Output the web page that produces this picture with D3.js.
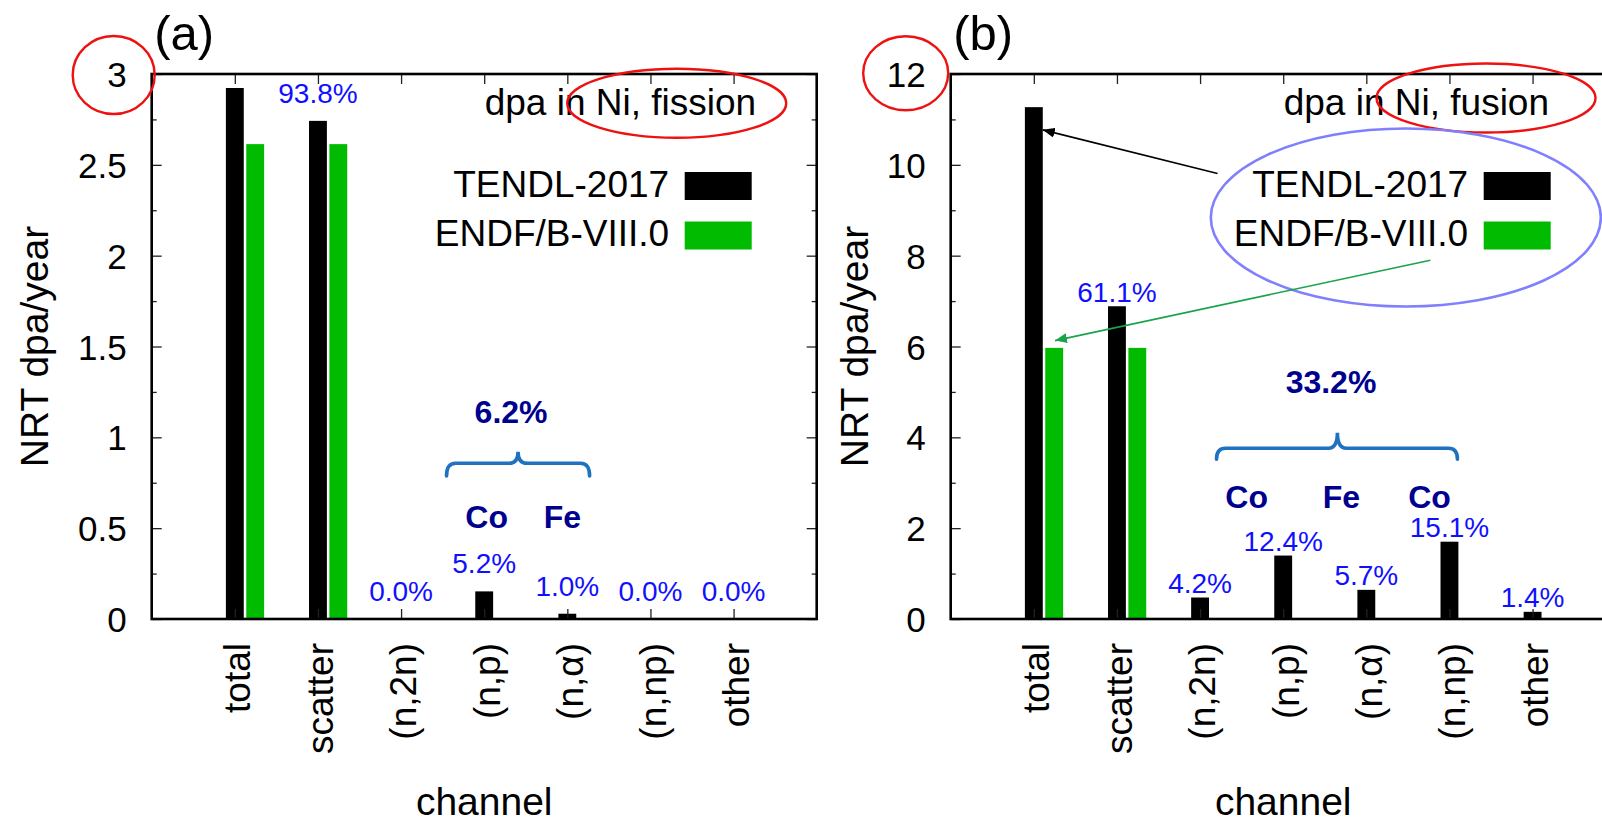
<!DOCTYPE html>
<html>
<head>
<meta charset="utf-8">
<script src="https://cdn.jsdelivr.net/npm/d3@7"></script>
<style>
  html, body { margin: 0; padding: 0; background: #fff; }
  svg { display: block; font-family: "Liberation Sans", Arial, Helvetica, sans-serif; }
</style>
</head>
<body>
<svg id="chart" width="1602" height="824"></svg>
<script>
// Reaction channels shared by both panels
const channels = ["total", "scatter", "(n,2n)", "(n,p)", "(n,\u03b1)", "(n,np)", "other"];
const libraries = ["TENDL-2017", "ENDF/B-VIII.0"];

// NRT dpa/year in Ni, fission spectrum
const tendlFission = [2.923, 2.742, 0.0, 0.152, 0.029, 0.0, 0.0];
const endfFission  = [2.614, 2.614, 0.0, 0.0, 0.0, 0.0, 0.0];

// NRT dpa/year in Ni, fusion spectrum
const tendlFusion = [11.27, 6.886, 0.473, 1.397, 0.642, 1.702, 0.158];
const endfFusion  = [5.97, 5.97, 0.0, 0.0, 0.0, 0.0, 0.0];

// Axis ticks
const yTicksFission = [0, 0.5, 1, 1.5, 2, 2.5, 3];
const yMinorFission = [0.25, 0.75, 1.25, 1.75, 2.25, 2.75];
const yTicksFusion  = [0, 2, 4, 6, 8, 10, 12];
const yMinorFusion  = [1, 3, 5, 7, 9, 11];

// Transmutation channels grouped under the brace, and the product element of each
const groupFission = [3, 4];
const elementsFission = [{ text: "Co", x: 3.03 }, { text: "Fe", x: 3.94 }];
const groupFusion = [3, 4, 5];
const elementsFusion = [{ text: "Co", x: 2.56 }, { text: "Fe", x: 3.70 }, { text: "Co", x: 4.76 }];

const COLORS = { tendl: "#000000", endf: "#00bb00", pct: "#1010ff", group: "#00008f",
                 brace: "#1f72bf", red: "#ee1111", oval: "#8080ff", arrowGreen: "#19a34a" };

const svg = d3.select("#chart");
const TOP = 74, BOTTOM = 619, PW = 665;
const BAR_W = 0.215, BAR_OFF = 0.245;

const defs = svg.append("defs");
function arrowMarker(id, color) {
  defs.append("marker").attr("id", id)
    .attr("viewBox", "0 0 12 10").attr("refX", 12).attr("refY", 5)
    .attr("markerWidth", 12).attr("markerHeight", 10)
    .attr("markerUnits", "userSpaceOnUse").attr("orient", "auto")
    .append("path").attr("d", "M0,0 L12,5 L0,10 Z").attr("fill", color);
}
arrowMarker("headBlack", "#000");
arrowMarker("headGreen", COLORS.arrowGreen);

const pctFmt = v => v.toFixed(1) + "%";

function drawPanel(p) {
  const x = d3.scaleLinear().domain([-1, 7]).range([p.left, p.left + PW]);
  const y = d3.scaleLinear().domain([0, p.ymax]).range([BOTTOM, TOP]);
  const g = svg.append("g");

  // bars
  g.append("g").selectAll("rect").data(p.tendl).join("rect")
    .attr("x", (d, i) => x(i - BAR_W / 2)).attr("width", x(BAR_W) - x(0))
    .attr("y", d => y(d)).attr("height", d => y(0) - y(d))
    .attr("fill", COLORS.tendl);
  g.append("g").selectAll("rect").data(p.endf.map((v, i) => ({ v, i })).filter(d => d.v > 0)).join("rect")
    .attr("x", d => x(d.i + BAR_OFF - BAR_W / 2)).attr("width", x(BAR_W) - x(0))
    .attr("y", d => y(d.v)).attr("height", d => y(0) - y(d.v))
    .attr("fill", COLORS.endf);

  // axes: labelled left/bottom, mirrored ticks on right/top
  const tickStyle = sel => {
    sel.select(".domain").remove();
    sel.selectAll(".tick line").attr("stroke", "#222").attr("stroke-width", 1.3);
  };
  const yAxis = g.append("g").attr("transform", `translate(${p.left},0)`)
    .call(d3.axisLeft(y).tickValues(p.yTicks).tickSizeInner(-10).tickSizeOuter(0)
      .tickPadding(25).tickFormat(d3.format("~g")));
  yAxis.call(tickStyle);
  yAxis.selectAll("text").attr("font-size", 35).attr("fill", "#000").attr("dy", "0.36em");
  g.append("g").attr("transform", `translate(${p.left},0)`)
    .call(d3.axisLeft(y).tickValues(p.yMinor).tickSizeInner(-5).tickSizeOuter(0).tickFormat(""))
    .call(tickStyle);
  g.append("g").attr("transform", `translate(${p.left + PW},0)`)
    .call(d3.axisRight(y).tickValues(p.yTicks).tickSizeInner(-10).tickSizeOuter(0).tickFormat(""))
    .call(tickStyle);
  g.append("g").attr("transform", `translate(${p.left + PW},0)`)
    .call(d3.axisRight(y).tickValues(p.yMinor).tickSizeInner(-5).tickSizeOuter(0).tickFormat(""))
    .call(tickStyle);

  const xAxis = g.append("g").attr("transform", `translate(0,${BOTTOM})`)
    .call(d3.axisBottom(x).tickValues(d3.range(channels.length)).tickSizeInner(-10).tickSizeOuter(0)
      .tickFormat(i => channels[i]));
  xAxis.call(tickStyle);
  xAxis.selectAll("text")
    .attr("transform", "rotate(-90)").attr("x", -24).attr("y", 0).attr("dy", "0.4em")
    .attr("text-anchor", "end").attr("font-size", 37).attr("fill", "#000");
  g.append("g").attr("transform", `translate(0,${TOP})`)
    .call(d3.axisTop(x).tickValues(d3.range(channels.length)).tickSizeInner(-10).tickSizeOuter(0).tickFormat(""))
    .call(tickStyle);

  // frame
  g.append("rect").attr("x", p.left).attr("y", TOP).attr("width", PW).attr("height", BOTTOM - TOP)
    .attr("fill", "none").attr("stroke", "#000").attr("stroke-width", 2.6);

  // axis titles
  g.append("text").attr("transform", `translate(${p.left + p.yTitleDx},${(TOP + BOTTOM) / 2}) rotate(-90)`)
    .attr("text-anchor", "middle").attr("font-size", 39).text("NRT dpa/year");
  g.append("text").attr("x", p.left + PW / 2).attr("y", 815).attr("text-anchor", "middle")
    .attr("font-size", 39).text("channel");

  // panel tag and spectrum title
  g.append("text").attr("x", p.left + 2.5).attr("y", 50).attr("font-size", 49).text(p.tag);
  g.append("text").attr("x", p.left + 333).attr("y", 114.5).attr("font-size", 37).text(p.title);

  // legend
  libraries.forEach((lib, k) => {
    const ry = 172 + k * 49.5;
    g.append("text").attr("x", p.left + 517.5).attr("y", ry + 24.5).attr("text-anchor", "end")
      .attr("font-size", 37).text(lib);
    g.append("rect").attr("x", p.left + 533).attr("y", ry).attr("width", 67).attr("height", 28)
      .attr("fill", k === 0 ? COLORS.tendl : COLORS.endf);
  });

  // share of total for each channel
  const total = p.tendl[0];
  g.append("g").selectAll("text").data(p.tendl.slice(1).map((v, k) => ({ v, i: k + 1 }))).join("text")
    .attr("x", d => x(d.i)).attr("y", d => y(d.v + 0.1)).attr("text-anchor", "middle")
    .attr("font-size", 28).attr("fill", COLORS.pct)
    .text(d => pctFmt(d.v / total * 100));

  // transmutation group: brace, combined share, product elements
  const b = p.brace;
  const bx0 = x(b.x0), bx1 = x(b.x1), bxm = x(b.xm);
  const byl = y(b.line), bye = y(b.end), byp = y(b.peak), r = 9;
  g.append("path")
    .attr("d", `M${bx0},${bye} Q${bx0},${byl} ${bx0 + r},${byl} L${bxm - r},${byl} Q${bxm},${byl} ${bxm},${byp}` +
               ` Q${bxm},${byl} ${bxm + r},${byl} L${bx1 - r},${byl} Q${bx1},${byl} ${bx1},${bye}`)
    .attr("fill", "none").attr("stroke", COLORS.brace).attr("stroke-width", 3.6).attr("stroke-linecap", "round");
  const groupSum = d3.sum(p.group, i => p.tendl[i]);
  g.append("text").attr("x", x(b.labelX)).attr("y", y(b.labelY)).attr("text-anchor", "middle")
    .attr("font-size", 32).attr("font-weight", "bold").attr("fill", COLORS.group)
    .text(pctFmt(groupSum / total * 100));
  g.append("g").selectAll("text").data(p.elements).join("text")
    .attr("x", d => x(d.x)).attr("y", y(b.elemY)).attr("text-anchor", "middle")
    .attr("font-size", 32).attr("font-weight", "bold").attr("fill", COLORS.group)
    .text(d => d.text);

  // highlight rings
  g.append("ellipse").attr("cx", p.left - p.ring.dx).attr("cy", y(p.ymax) + p.ring.dy)
    .attr("rx", p.ring.rx).attr("ry", p.ring.ry)
    .attr("fill", "none").attr("stroke", COLORS.red).attr("stroke-width", 2.4);
  g.append("ellipse").attr("cx", x(p.titleRing.x)).attr("cy", y(p.titleRing.y))
    .attr("rx", 109.5).attr("ry", 34.5)
    .attr("fill", "none").attr("stroke", COLORS.red).attr("stroke-width", 2.4);

  return { x, y, g };
}

drawPanel({
  left: 151.7, ymax: 3, yTicks: yTicksFission, yMinor: yMinorFission,
  tendl: tendlFission, endf: endfFission, tag: "(a)", title: "dpa in Ni, fission",
  yTitleDx: -104, group: groupFission, elements: elementsFission,
  brace: { x0: 2.547, x1: 4.268, xm: 3.407, line: 0.857, end: 0.787, peak: 0.921,
           labelX: 3.323, labelY: 1.08, elemY: 0.503 },
  ring: { dx: 38, dy: 1, rx: 41, ry: 39 },
  titleRing: { x: 5.316, y: 2.839 }
});

const fusion = drawPanel({
  left: 950.7, ymax: 12, yTicks: yTicksFusion, yMinor: yMinorFusion,
  tendl: tendlFusion, endf: endfFusion, tag: "(b)", title: "dpa in Ni, fusion",
  yTitleDx: -82.5, group: groupFusion, elements: elementsFusion,
  brace: { x0: 2.198, x1: 5.096, xm: 3.652, line: 3.76, end: 3.52, peak: 4.10,
           labelX: 3.575, labelY: 4.98, elemY: 2.44 },
  ring: { dx: 45, dy: -0.7, rx: 42.5, ry: 37 },
  titleRing: { x: 5.44, y: 11.47 }
});

// legend callout in the fusion panel, pointing at the two totals
{
  const { x, y, g } = fusion;
  g.append("ellipse").attr("cx", x(4.475)).attr("cy", y(8.84))
    .attr("rx", x(2.346) - x(0)).attr("ry", y(0) - y(1.96))
    .attr("fill", "none").attr("stroke", COLORS.oval).attr("stroke-width", 2.6);
  g.append("line").attr("x1", x(2.21)).attr("y1", y(9.81)).attr("x2", x(0.107)).attr("y2", y(10.77))
    .attr("stroke", "#000").attr("stroke-width", 1.6).attr("marker-end", "url(#headBlack)");
  g.append("line").attr("x1", x(4.77)).attr("y1", y(7.90)).attr("x2", x(0.255)).attr("y2", y(6.13))
    .attr("stroke", COLORS.arrowGreen).attr("stroke-width", 1.6).attr("marker-end", "url(#headGreen)");
}
</script>
</body>
</html>
